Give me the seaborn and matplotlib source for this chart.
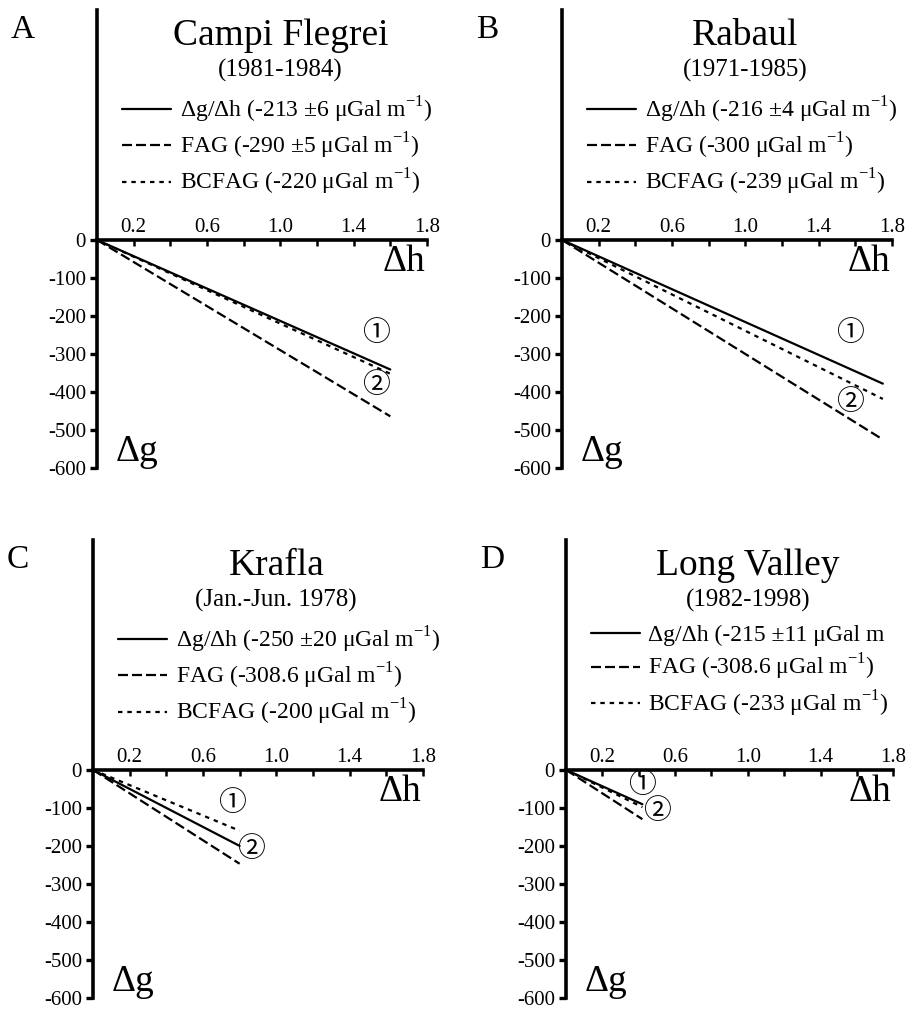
import numpy as np
import pandas as pd
import seaborn as sns
import matplotlib.pyplot as plt
from matplotlib.lines import Line2D

# Data
letters = ['A', 'B', 'C', 'D']
sites = ['Campi Flegrei', 'Rabaul', 'Krafla', 'Long Valley']
periods = ['(1981-1984)', '(1971-1985)', '(Jan.-Jun. 1978)', '(1982-1998)']
obs_grad = [-213, -216, -250, -215]      # observed dg/dh, uGal/m
fag_grad = [-290, -300, -308.6, -308.6]  # free-air gradient
bcfag_grad = [-220, -239, -200, -233]    # Bouguer-corrected FAG
dh_max = [1.6, 1.75, 0.8, 0.42]          # max uplift, m

obs_labels = ['Δg/Δh (-213 ±6 μGal m$^{\\mathrm{-1}}$)',
              'Δg/Δh (-216 ±4 μGal m$^{\\mathrm{-1}}$)',
              'Δg/Δh (-250 ±20 μGal m$^{\\mathrm{-1}}$)',
              'Δg/Δh (-215 ±11 μGal m']
fag_labels = ['FAG (-290 ±5 μGal m$^{\\mathrm{-1}}$)',
              'FAG (-300 μGal m$^{\\mathrm{-1}}$)',
              'FAG (-308.6 μGal m$^{\\mathrm{-1}}$)',
              'FAG (-308.6 μGal m$^{\\mathrm{-1}}$)']
bcfag_labels = ['BCFAG (-220 μGal m$^{\\mathrm{-1}}$)',
                'BCFAG (-239 μGal m$^{\\mathrm{-1}}$)',
                'BCFAG (-200 μGal m$^{\\mathrm{-1}}$)',
                'BCFAG (-233 μGal m$^{\\mathrm{-1}}$)']

# positions of the circled curve numbers (data coords)
mark1 = [(1.52, -245), (1.57, -245), (0.76, -87), (0.42, -40)]
mark2 = [(1.52, -381), (1.57, -426), (0.86, -209), (0.50, -109)]

x_ticks = [0.2, 0.4, 0.6, 0.8, 1.0, 1.2, 1.4, 1.6, 1.8]
x_ticklabels = ['0.2', '', '0.6', '', '1.0', '', '1.4', '', '1.8']
y_ticks = [0, -100, -200, -300, -400, -500, -600]
y_ticklabels = ['0', '-100', '-200', '-300', '-400', '-500', '-600']

sns.set_theme(style='white')
plt.rcParams['font.family'] = ['Liberation Serif', 'DejaVu Sans', 'Noto Sans CJK JP']
plt.rcParams['mathtext.fontset'] = 'custom'
plt.rcParams['mathtext.rm'] = 'Liberation Serif'
for k in ['text.color', 'axes.labelcolor', 'xtick.color', 'ytick.color']:
    plt.rcParams[k] = 'black'

fig = plt.figure(figsize=(9.09, 10.10), dpi=100)

# axes rectangles [left, bottom, width, height] in figure fraction
rects = [[0.1067, 0.5366, 0.363, 0.4535],
         [0.6183, 0.5366, 0.363, 0.4535],
         [0.1023, 0.0119, 0.363, 0.4535],
         [0.6227, 0.0119, 0.360, 0.4535]]

fag_dash = (4.5, 1.8)
bcfag_dash = (2, 2.2)

for i in range(4):
    ax = fig.add_axes(rects[i])
    ax.set_facecolor('none')
    xs = np.array([0.0, dh_max[i]])
    df = pd.DataFrame({
        'dh': np.concatenate([xs, xs, xs]),
        'dg': np.concatenate([obs_grad[i] * xs, fag_grad[i] * xs, bcfag_grad[i] * xs]),
        'kind': ['obs'] * 2 + ['fag'] * 2 + ['bcfag'] * 2,
    })
    sns.lineplot(data=df, x='dh', y='dg', style='kind',
                 dashes={'obs': '', 'fag': fag_dash, 'bcfag': bcfag_dash},
                 color='black', linewidth=1.6, legend=False, ax=ax, clip_on=False)

    ax.set_xlim(0, 1.8)
    ax.set_ylim(-600, 605)
    ax.set_xlabel('')
    ax.set_ylabel('')

    for s in ['right', 'bottom']:
        ax.spines[s].set_visible(False)
    ax.spines['top'].set_position(('data', 0))
    for s in ['top', 'left']:
        ax.spines[s].set_color('black')
        ax.spines[s].set_linewidth(2.6)

    ax.xaxis.set_ticks_position('top')
    ax.set_xticks(x_ticks)
    ax.set_xticklabels(x_ticklabels)
    ax.tick_params(axis='x', direction='in', length=4, width=1.8, pad=2,
                   labelsize=15, top=True, bottom=False)
    ax.set_yticks(y_ticks)
    ax.set_yticklabels(y_ticklabels)
    ax.tick_params(axis='y', direction='out', length=5, width=2.4, pad=3,
                   labelsize=15, left=True)

    # axis names
    ax.text(1.79, -58, 'Δh', fontsize=27, ha='right', va='center')
    ax.text(0.1, -557, 'Δg', fontsize=27, ha='left', va='center')

    # titles
    ax.text(1.0, 537, sites[i], fontsize=27, ha='center', va='center')
    ax.text(1.0, 447, periods[i], fontsize=18, ha='center', va='center')

    # circled curve numbers
    ax.text(*mark1[i], '①', fontsize=20, ha='center', va='center',
            family=['Noto Sans CJK JP', 'DejaVu Sans'])
    ax.text(*mark2[i], '②', fontsize=20, ha='center', va='center',
            family=['Noto Sans CJK JP', 'DejaVu Sans'])

    handles = [Line2D([], [], color='black', lw=1.6),
               Line2D([], [], color='black', lw=1.6, dashes=fag_dash),
               Line2D([], [], color='black', lw=1.6, dashes=bcfag_dash)]
    ax.legend(handles, [obs_labels[i], fag_labels[i], bcfag_labels[i]],
              loc='upper left', bbox_to_anchor=(0.075, 0.815),
              frameon=False, fontsize=17, handlelength=2.1,
              handletextpad=0.35, labelspacing=0.25,
              borderpad=0, borderaxespad=0)

    fig.text(rects[i][0] - 0.095, rects[i][1] + rects[i][3] - 0.02, letters[i],
             fontsize=24, ha='left', va='center')

fig.savefig('out.png', dpi=100)
